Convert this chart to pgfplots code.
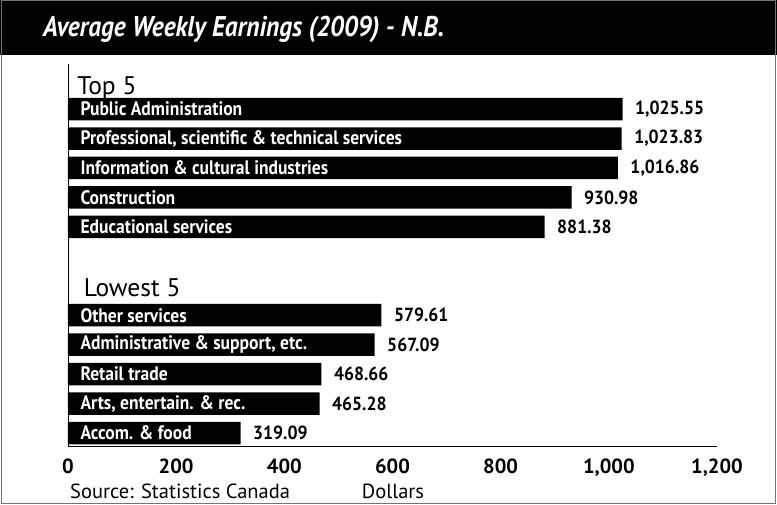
\documentclass[border=0pt]{standalone}
\usepackage{pgfplots}
\pgfplotsset{compat=1.18}
\usepackage{fontspec}
\setmainfont{PT Sans}
\newfontfamily\cond[FakeStretch=0.9]{PT Sans}
\newfontfamily\vals[FakeStretch=0.93]{PT Sans}
\newfontfamily\titlefont[FakeStretch=0.89]{PT Sans}

\begin{document}
\begin{tikzpicture}[x=1pt,y=1pt]
\useasboundingbox (-68,-58) rectangle (709,446);
\fill[white] (-68,-58) rectangle (709,446);
\fill[black] (-68,391) rectangle (709,446);
\draw[black!55, line width=1.5pt] (-66.5,-57.25) rectangle (707.5,446);
\node[anchor=base west, inner sep=0, text=white, font=\titlefont\fontsize{28.5}{30}\selectfont\bfseries\itshape]
  at (-25,409) {Average Weekly Earnings (2009) - N.B.};
\begin{axis}[
  at={(0,0)}, anchor=south west,
  scale only axis, width=649pt, height=382pt,
  xmin=0, xmax=1200, ymin=0.56, ymax=13.53,
  xbar, bar width=22.5pt,
  axis x line*=bottom, axis y line*=left,
  axis line style={-, line width=0.9pt, black},
  axis on top,
  major tick length=0pt,
  xtick={0,200,400,600,800,1000,1200},
  /pgf/number format/1000 sep={,},
  /pgf/number format/assume math mode=true,
  xticklabel style={anchor=base, yshift=-27pt, font=\fontsize{20.5}{22}\selectfont\bfseries},
  ytick={12,11,10,9,8,5,4,3,2,1},
  yticklabels={{Public Administration},{Professional, scientific \& technical services},
    {Information \& cultural industries},{Construction},{Educational services},
    {Other services},{Administrative \& support, etc.},{Retail trade},
    {Arts, entertain. \& rec.},{Accom. \& food}},
  yticklabel style={anchor=west, xshift=9pt, text=white, font=\cond\fontsize{19.5}{21}\selectfont\bfseries},
  nodes near coords={\pgfmathprintnumber[fixed, fixed zerofill, precision=2, 1000 sep={,}, assume math mode=true]{\pgfplotspointmeta}},
  point meta=x,
  every node near coord/.append style={anchor=west, xshift=9pt, font=\vals\fontsize{19}{21}\selectfont\bfseries},
  clip=false,
]
\addplot[fill=black, draw=none] coordinates {
  (1025.55,12) (1023.83,11) (1016.86,10) (930.98,9) (881.38,8)
  (579.61,5) (567.09,4) (468.66,3) (465.28,2) (319.09,1)};
\node[anchor=base west, inner sep=0, font=\fontsize{25.5}{27}\selectfont] at (axis cs:17,12.51) {Top 5};
\node[anchor=base west, inner sep=0, font=\fontsize{25.5}{27}\selectfont] at (axis cs:29,5.62) {Lowest 5};
\end{axis}
\node[anchor=base west, inner sep=0, font=\fontsize{20.5}{22}\selectfont] at (2,-52) {Source: Statistics Canada};
\node[anchor=base, inner sep=0, font=\fontsize{20.5}{22}\selectfont] at (325,-52) {Dollars};
\end{tikzpicture}
\end{document}
